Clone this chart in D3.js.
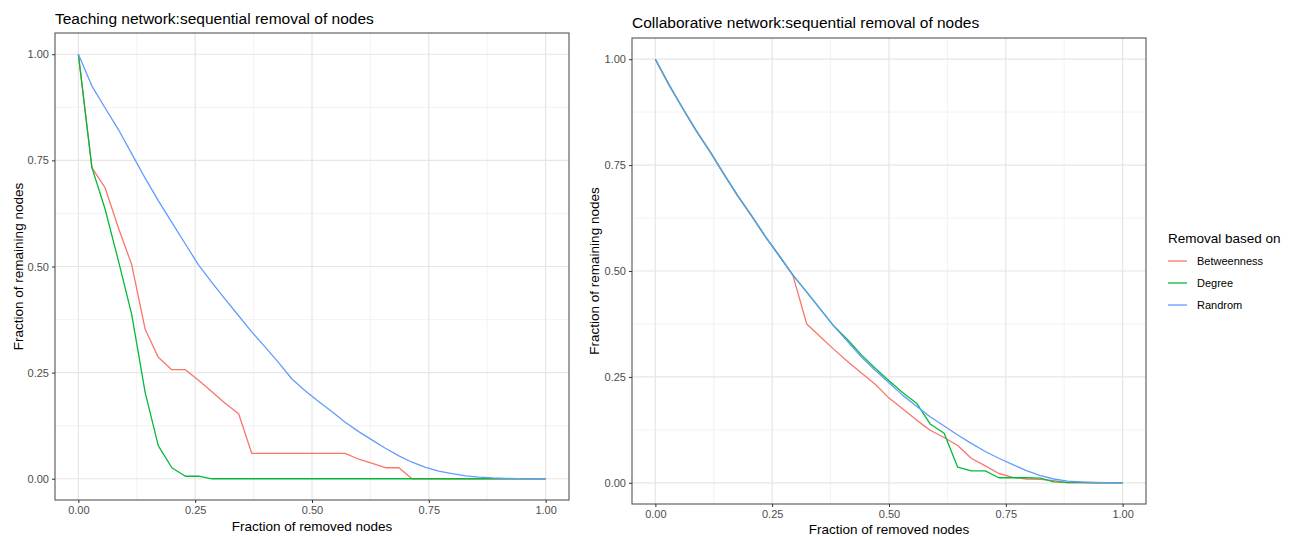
<!DOCTYPE html>
<html>
<head>
<meta charset="utf-8">
<script src="https://cdn.jsdelivr.net/npm/d3@7"></script>
<style>
  body { margin: 0; background: #fff; }
  text { font-family: "Liberation Sans", Arial, Helvetica, sans-serif; }
</style>
</head>
<body>
<svg id="chart"></svg>
<script>

const containerWidth  = 1293;
const containerHeight = 536;

// legend / series names
const seriesNames  = ["Betweenness", "Degree", "Randrom"];
const seriesColors = ["#F8766D", "#00BA38", "#619CFF"];

const tickValues = [0, 0.25, 0.5, 0.75, 1];
const minorTicks = [0.125, 0.375, 0.625, 0.875];

// Teaching network (35 nodes)
const teachX = [0, .029, .057, .086, .114, .143, .171, .2, .229, .257, .286, .314, .343, .371, .4, .429, .457, .486,
                .514, .543, .571, .6, .629, .657, .686, .714, .743, .771, .8, .829, .857, .886, .914, .943, .971, 1];
const teachBetweenness = [1, .733, .686, .59, .505, .352, .286, .257, .257, .232, .205, .178, .153, .06, .06, .06, .06, .06,
                          .06, .06, .06, .046, .036, .026, .026, 0, 0, 0, 0, 0, 0, 0, 0, 0, 0, 0];
const teachDegree = [1, .733, .636, .512, .388, .203, .078, .026, .006, .006, 0, 0, 0, 0, 0, 0, 0, 0,
                     0, 0, 0, 0, 0, 0, 0, 0, 0, 0, 0, 0, 0, 0, 0, 0, 0, 0];
const teachRandom = [1, .925, .874, .822, .766, .708, .655, .604, .553, .504, .462, .423, .384, .346, .31, .273, .235, .207,
                     .182, .158, .133, .111, .091, .072, .054, .039, .027, .018, .012, .007, .004, .002, .001, .0005, .0002, 0];

// Collaborative network (34 nodes)
const collabX = [0, .029, .059, .088, .118, .147, .176, .206, .235, .265, .294, .324, .353, .382, .412, .441, .471, .5,
                 .529, .559, .588, .618, .647, .676, .706, .735, .765, .794, .824, .853, .882, .912, .941, .971, 1];
const collabBetweenness = [1, .94, .883, .83, .78, .728, .678, .63, .582, .536, .491, .375, .345, .315, .286, .259, .232, .2,
                           .175, .148, .124, .107, .088, .058, .04, .022, .013, .009, .008, .005, 0, 0, 0, 0, 0];
const collabDegree = [1, .94, .883, .83, .78, .728, .678, .63, .582, .536, .491, .45, .41, .37, .337, .302, .27, .241,
                      .213, .188, .139, .117, .037, .028, .028, .012, .012, .012, .011, .002, .001, .001, 0, 0, 0];
const collabRandom = [1, .94, .883, .83, .78, .728, .678, .63, .582, .536, .491, .45, .41, .37, .333, .297, .265, .236,
                      .207, .181, .156, .134, .113, .093, .074, .058, .043, .029, .017, .009, .004, .002, .001, .0003, 0];

const svg = d3.select("#chart")
              .attr("width", containerWidth)
              .attr("height", containerHeight);

const panels = [
  {title: "Teaching network:sequential removal of nodes", x: teachX,
   series: [teachBetweenness, teachDegree, teachRandom],
   left: 55, right: 569, top: 33, bottom: 500, titleY: 24, yTitleX: 23, xTitleY: 531},
  {title: "Collaborative network:sequential removal of nodes", x: collabX,
   series: [collabBetweenness, collabDegree, collabRandom],
   left: 632, right: 1146, top: 38, bottom: 504, titleY: 28, yTitleX: 599, xTitleY: 534}
];

const fmt = d3.format(".2f");

panels.forEach(p => {
  const xScale = d3.scaleLinear().domain([-0.05, 1.05]).range([p.left, p.right]);
  const yScale = d3.scaleLinear().domain([-0.05, 1.05]).range([p.bottom, p.top]);
  const g = svg.append("g");

  // grid
  g.selectAll(".minor-x").data(minorTicks).join("line")
    .attr("x1", d => xScale(d)).attr("x2", d => xScale(d))
    .attr("y1", p.top).attr("y2", p.bottom)
    .attr("stroke", "#EBEBEB").attr("stroke-width", 0.6);
  g.selectAll(".minor-y").data(minorTicks).join("line")
    .attr("y1", d => yScale(d)).attr("y2", d => yScale(d))
    .attr("x1", p.left).attr("x2", p.right)
    .attr("stroke", "#EBEBEB").attr("stroke-width", 0.6);
  g.selectAll(".major-x").data(tickValues).join("line")
    .attr("x1", d => xScale(d)).attr("x2", d => xScale(d))
    .attr("y1", p.top).attr("y2", p.bottom)
    .attr("stroke", "#E6E6E6").attr("stroke-width", 1.2);
  g.selectAll(".major-y").data(tickValues).join("line")
    .attr("y1", d => yScale(d)).attr("y2", d => yScale(d))
    .attr("x1", p.left).attr("x2", p.right)
    .attr("stroke", "#E6E6E6").attr("stroke-width", 1.2);

  // lines
  const line = d3.line()
    .x((d, i) => xScale(p.x[i]))
    .y(d => yScale(d));
  p.series.forEach((s, k) => {
    g.append("path")
      .datum(s)
      .attr("d", line)
      .attr("fill", "none")
      .attr("stroke", seriesColors[k])
      .attr("stroke-width", 1.3)
      .attr("stroke-linejoin", "round");
  });

  // border
  g.append("rect")
    .attr("x", p.left).attr("y", p.top)
    .attr("width", p.right - p.left).attr("height", p.bottom - p.top)
    .attr("fill", "none").attr("stroke", "#555").attr("stroke-width", 1.1);

  // axes
  const xAxis = g.append("g")
    .attr("transform", `translate(0,${p.bottom})`)
    .call(d3.axisBottom(xScale).tickValues(tickValues).tickFormat(fmt).tickSize(3).tickPadding(3));
  const yAxis = g.append("g")
    .attr("transform", `translate(${p.left},0)`)
    .call(d3.axisLeft(yScale).tickValues(tickValues).tickFormat(fmt).tickSize(3).tickPadding(3));
  [xAxis, yAxis].forEach(a => {
    a.select(".domain").remove();
    a.selectAll(".tick line").attr("stroke", "#333");
    a.selectAll(".tick text").attr("fill", "#4D4D4D")
      .style("font-size", "11px")
      .style("font-family", '"Liberation Sans", Arial, sans-serif');
  });

  // titles
  g.append("text")
    .attr("x", p.left).attr("y", p.titleY)
    .style("font-size", "15.5px").attr("fill", "#000")
    .text(p.title);
  g.append("text")
    .attr("x", (p.left + p.right) / 2).attr("y", p.xTitleY)
    .attr("text-anchor", "middle")
    .style("font-size", "13.5px").attr("fill", "#000")
    .text("Fraction of removed nodes");
  g.append("text")
    .attr("transform", `translate(${p.yTitleX},${(p.top + p.bottom) / 2}) rotate(-90)`)
    .attr("text-anchor", "middle")
    .style("font-size", "13.5px").attr("fill", "#000")
    .text("Fraction of remaining nodes");
});

// legend
const legend = svg.append("g").attr("id", "legend");
legend.append("text")
  .attr("x", 1168).attr("y", 243)
  .style("font-size", "13.5px").attr("fill", "#000")
  .text("Removal based on");

const legendY = d3.scalePoint().domain(seriesNames).range([261, 305]);
legend.selectAll("line").data(seriesNames).join("line")
  .attr("x1", 1168).attr("x2", 1187)
  .attr("y1", d => legendY(d)).attr("y2", d => legendY(d))
  .attr("stroke", (d, i) => seriesColors[i]).attr("stroke-width", 1.3);
legend.selectAll(".legend-label").data(seriesNames).join("text")
  .attr("class", "legend-label")
  .attr("x", 1197).attr("y", d => legendY(d) + 4)
  .style("font-size", "11px").attr("fill", "#000")
  .text(d => d);

</script>
</body>
</html>
